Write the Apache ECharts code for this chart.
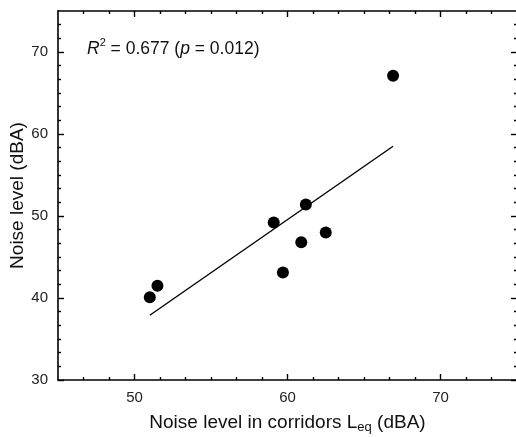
<!DOCTYPE html>
<html>
<head>
<meta charset="utf-8">
<script src="https://cdn.jsdelivr.net/npm/echarts@6/dist/echarts.min.js"></script>
<style>html,body{margin:0;padding:0;background:#fff}#c{width:516px;height:437px}</style>
</head>
<body>
<div id="c"></div>
<script>
// ---- data ----
const corridorLeq = [51.0, 51.5, 59.1, 61.2, 59.7, 60.9, 62.5, 66.9];
const noiseLevel  = [40.1, 41.5, 49.2, 51.4, 43.1, 46.8, 48.0, 67.1];
const fitX = [51.0, 66.9];
const fitY = [37.9, 58.5];
const xTickLabels = [50, 60, 70];
const yTickLabels = [30, 40, 50, 60, 70];
const xRange = [45, 75];
const yRange = [30, 75];
const annotation = '{i|R}{sup|2} = 0.677 ({i|p} = 0.012)';

function minorValues(range, majors) {
  const out = [];
  const step = 10 / 6;
  for (let k = 0; ; k++) {
    const v = Math.round((range[0] + k * step) * 1000) / 1000;
    if (v > range[1] + 1e-6) break;
    if (v <= range[0] + 1e-6 || v >= range[1] - 1e-6) continue;
    if (majors.some(m => Math.abs(m - v) < 1e-3)) continue;
    out.push(v);
  }
  return out;
}
const xMinor = minorValues(xRange, xTickLabels);
const yMinor = minorValues(yRange, yTickLabels);

const FONT = 'Liberation Sans, Arial, sans-serif';
const lineStyle = { color: '#000', width: 1.6 };

function axis(dim, position, range, ticks, isMajor, withLabels, extra) {
  const a = {
    type: 'value', position: position, min: range[0], max: range[1],
    splitLine: { show: false },
    axisLine: { show: isMajor, onZero: false, lineStyle: lineStyle },
    axisTick: { show: true, inside: true, length: isMajor ? 6 : 3, customValues: ticks, lineStyle: { color: '#000', width: 1.4 } },
    axisLabel: withLabels ? { show: true, customValues: ticks, margin: 10, fontSize: 15, color: '#222', fontFamily: FONT } : { show: false }
  };
  return Object.assign(a, extra || {});
}

const chart = echarts.init(document.getElementById('c'));
chart.setOption({
  animation: false,
  backgroundColor: '#fff',
  grid: { left: 58, top: 11, width: 459, height: 369, containLabel: false, outerBoundsMode: 'none' },
  title: {
    text: annotation, left: 82, top: 32,
    textStyle: {
      fontSize: 17.5, fontWeight: 'normal', color: '#111', fontFamily: FONT, lineHeight: 24,
      rich: {
        i: { fontSize: 17.5, fontStyle: 'italic', color: '#111', fontFamily: FONT, lineHeight: 24 },
        sup: { fontSize: 11, color: '#111', fontFamily: FONT, verticalAlign: 'top', lineHeight: 12 }
      }
    }
  },
  xAxis: [
    axis('x', 'bottom', xRange, xTickLabels, true, true, {
      name: 'Noise level in corridors L{sub|eq} (dBA)', nameLocation: 'middle', nameGap: 32,
      nameTextStyle: { fontSize: 19, color: '#111', fontFamily: FONT, lineHeight: 22,
        rich: { sub: { fontSize: 13, color: '#111', fontFamily: FONT, verticalAlign: 'bottom', lineHeight: 13 } } }
    }),
    axis('x', 'bottom', xRange, xMinor, false, false),
    axis('x', 'top', xRange, xTickLabels, true, false),
    axis('x', 'top', xRange, xMinor, false, false)
  ],
  yAxis: [
    axis('y', 'left', yRange, yTickLabels, true, true, {
      name: 'Noise level (dBA)', nameLocation: 'middle', nameGap: 31, nameMoveOverlap: false,
      nameTextStyle: { fontSize: 19, color: '#111', fontFamily: FONT }
    }),
    axis('y', 'left', yRange, yMinor, false, false),
    axis('y', 'right', yRange, yTickLabels, true, false),
    axis('y', 'right', yRange, yMinor, false, false)
  ],
  series: [
    {
      type: 'line', xAxisIndex: 0, yAxisIndex: 0,
      data: fitX.map((x, i) => [x, fitY[i]]),
      symbol: 'none', lineStyle: { color: '#000', width: 1.4 }, z: 2
    },
    {
      type: 'scatter', xAxisIndex: 0, yAxisIndex: 0,
      data: corridorLeq.map((x, i) => [x, noiseLevel[i]]),
      symbol: 'circle', symbolSize: 12, itemStyle: { color: '#000', opacity: 1 }, z: 3
    }
  ]
});
</script>
</body>
</html>
